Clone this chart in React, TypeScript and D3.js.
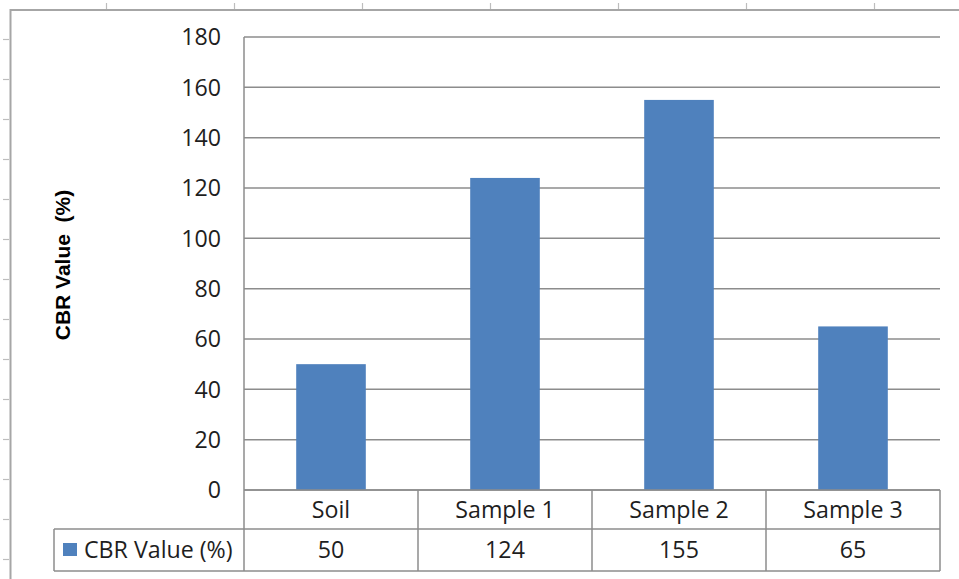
import React from "react";
import * as d3 from "d3";

// Chart data
const categories = ["Soil", "Sample 1", "Sample 2", "Sample 3"];
const cbrValues = [50, 124, 155, 65];
const yTicks = [0, 20, 40, 60, 80, 100, 120, 140, 160, 180];
const seriesName = "CBR Value (%)";
const axisTitle = "CBR Value\u00a0 (%)";

// Sheet grid marks peeking around the chart object
const sheetColTicks = [106, 234, 362, 490, 618, 746, 874];
const sheetRowTicks = [39, 79, 119, 159, 199, 239, 279, 319, 359, 399, 439, 479, 519, 559];

const W = 959;
const H = 579;
const plot = { left: 244, right: 940, top: 37, bottom: 490 };
const table = { left: 54, row1: 490, row2: 529, bottom: 571 };

const textFont = "'Open Sans', 'Noto Sans', sans-serif";
const fontSize = 23.2;
const gridColor = "#8c8c8c";
const barColor = "#4F81BD";
const textColor = "#1e1e1e";

export default function App() {
  const x = d3.scaleBand<string>().domain(categories).range([plot.left, plot.right]).padding(0);
  const y = d3.scaleLinear().domain([0, 180]).range([plot.bottom, plot.top]);
  const barW = x.bandwidth() * 0.4;

  return (
    <svg
      width={W}
      height={H}
      viewBox={`0 0 ${W} ${H}`}
      style={{ position: "absolute", left: 0, top: 0, background: "#fff" }}
    >
      {/* chart object frame and sheet grid */}
      <g stroke="#bdbdbd" strokeWidth={1.2}>
        {sheetColTicks.map((cx) => (
          <line key={`c${cx}`} x1={cx + 0.5} x2={cx + 0.5} y1={3} y2={9} />
        ))}
        {sheetRowTicks.map((ry) => (
          <line key={`r${ry}`} x1={3} x2={9} y1={ry + 0.5} y2={ry + 0.5} />
        ))}
      </g>
      <path d={`M10.5,${H} V10 H${W}`} fill="none" stroke="#a6a6a6" strokeWidth={2} />

      {/* gridlines */}
      <g stroke={gridColor} strokeWidth={1.5}>
        {yTicks.map((t) => (
          <line key={t} x1={plot.left} x2={plot.right} y1={y(t)} y2={y(t)} />
        ))}
        <line x1={plot.left} x2={plot.left} y1={plot.top} y2={table.bottom} />
      </g>

      {/* y tick labels */}
      <g fontFamily={textFont} fontSize={fontSize} fill={textColor} textAnchor="end">
        {yTicks.map((t) => (
          <text key={t} x={221} y={y(t)} dy="0.36em">
            {t}
          </text>
        ))}
      </g>

      {/* axis title */}
      <text
        transform={`translate(70, 265) rotate(-90)`}
        textAnchor="middle"
        fontFamily="'Liberation Sans', Arial, sans-serif"
        fontWeight="bold"
        fontSize={21}
        fill="#000"
      >
        {axisTitle}
      </text>

      {/* bars */}
      <g fill={barColor}>
        {categories.map((c, i) => (
          <rect
            key={c}
            x={(x(c) as number) + (x.bandwidth() - barW) / 2}
            y={y(cbrValues[i])}
            width={barW}
            height={plot.bottom - y(cbrValues[i])}
          />
        ))}
      </g>

      {/* data table */}
      <g stroke={gridColor} strokeWidth={1.5} fill="none">
        <line x1={plot.left} x2={plot.right} y1={table.row1} y2={table.row1} />
        <line x1={table.left} x2={plot.right} y1={table.row2} y2={table.row2} />
        <line x1={table.left} x2={plot.right} y1={table.bottom} y2={table.bottom} />
        <line x1={table.left} x2={table.left} y1={table.row2} y2={table.bottom} />
        {categories.map((c) => (
          <line
            key={c}
            x1={(x(c) as number) + x.bandwidth()}
            x2={(x(c) as number) + x.bandwidth()}
            y1={table.row1}
            y2={table.bottom}
          />
        ))}
      </g>
      <g fontFamily={textFont} fontSize={fontSize} fill={textColor} textAnchor="middle">
        {categories.map((c, i) => (
          <React.Fragment key={c}>
            <text x={(x(c) as number) + x.bandwidth() / 2} y={(table.row1 + table.row2) / 2} dy="0.36em">
              {c}
            </text>
            <text x={(x(c) as number) + x.bandwidth() / 2} y={(table.row2 + table.bottom) / 2} dy="0.36em">
              {cbrValues[i]}
            </text>
          </React.Fragment>
        ))}
      </g>
      <rect x={63} y={543} width={14} height={13} fill={barColor} />
      <text
        x={84}
        y={(table.row2 + table.bottom) / 2}
        dy="0.36em"
        fontFamily={textFont}
        fontSize={fontSize}
        fill={textColor}
      >
        {seriesName}
      </text>
    </svg>
  );
}
